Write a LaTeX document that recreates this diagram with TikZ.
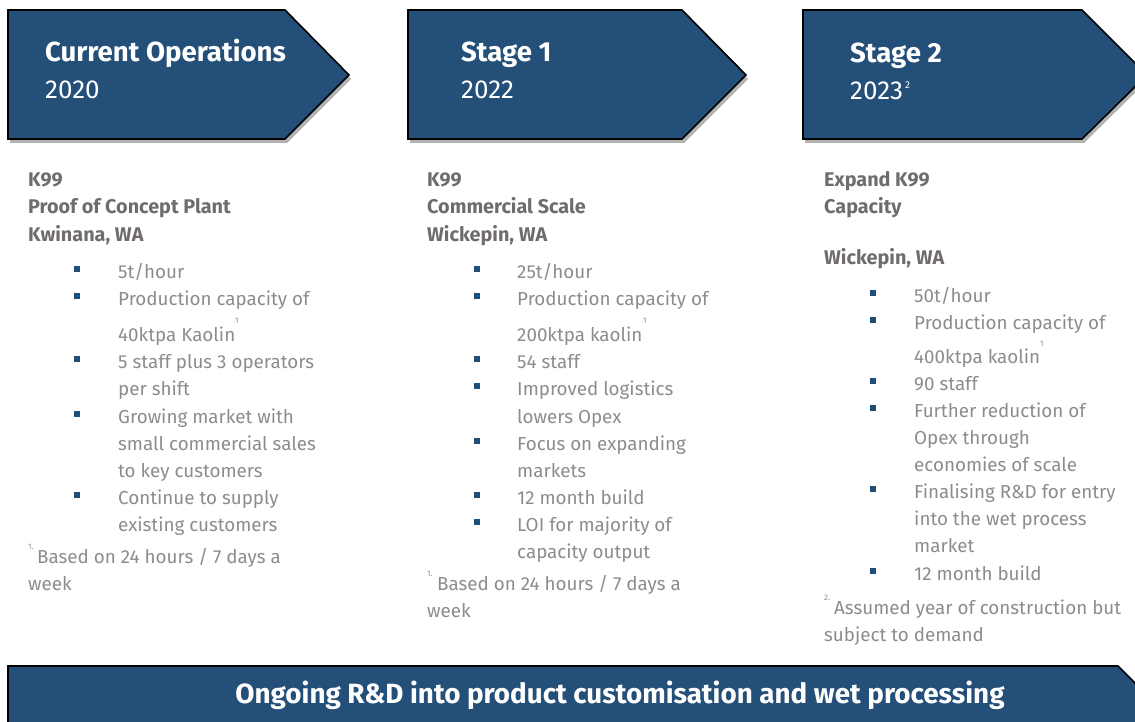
\documentclass[tikz,border=0pt]{standalone}
\usepackage{fontspec}
\setmainfont{Fira Sans}
\usetikzlibrary{shadows}
\definecolor{arrowblue}{RGB}{35,79,121}
\definecolor{headgray}{RGB}{112,108,108}
\definecolor{bodygray}{RGB}{140,140,140}
\definecolor{bulblue}{RGB}{31,78,121}
\newcommand{\hdrfont}{\fontsize{27.6}{30}\selectfont\bfseries}
\newcommand{\yrfont}{\fontsize{26}{30}\selectfont}
\newcommand{\bhfont}{\fontsize{19.8}{22}\selectfont\bfseries}
\newcommand{\btfont}{\fontsize{18.8}{24}\selectfont}
\newcommand{\smfont}{\fontsize{8}{9}\selectfont}
\newcommand{\barfont}{\fontsize{27.8}{30}\selectfont\bfseries}
\begin{document}
\begin{tikzpicture}[x=1pt,y=-1pt,
  stagearrow/.style={fill=arrowblue, draw=black, line width=1.6pt, line join=miter,
    drop shadow={shadow xshift=2pt, shadow yshift=-4pt, opacity=0.3, fill=black}},
  hdr/.style={anchor=base west, inner sep=0pt, text=white, font=\hdrfont},
  yr/.style={anchor=base west, inner sep=0pt, text=white, font=\yrfont},
  bh/.style={anchor=base west, inner sep=0pt, text=headgray, font=\bhfont},
  bt/.style={anchor=base west, inner sep=0pt, text=bodygray, font=\btfont},
  sm/.style={anchor=base west, inner sep=0pt, text=bodygray, font=\smfont},
  bul/.style={fill=bulblue, minimum size=5.5pt, inner sep=0pt},
  bartext/.style={anchor=base, inner sep=0pt, text=white, font=\barfont}]
\useasboundingbox (0,0) rectangle (1135,722);
\clip (0,0) rectangle (1135,722);
% header arrows
\path[stagearrow] (8,10) -- (285,10) -- (349,75) -- (285,139) -- (8,139) -- cycle;
\path[stagearrow] (408,10) -- (682,10) -- (746,75) -- (682,139) -- (408,139) -- cycle;
\path[stagearrow] (803,10) -- (1082,10) -- (1147,75) -- (1082,139) -- (803,139) -- cycle;
\node[hdr] (h1) at (45,62) {Current Operations};
\node[yr] (y1) at (45,99) {2020};
\node[hdr] (h2) at (461,62) {Stage 1};
\node[yr] (y2) at (461,99) {2022};
\node[hdr] (h3) at (850,63) {Stage 2};
\node[yr] (y3) at (850,100) {2023};
\node[sm, text=white, font=\fontsize{10}{11}\selectfont] (y3s) at (905,89) {2};
% column 1
\node[bh] (c1a) at (28,187) {K99};
\node[bh] (c1b) at (28,214) {Proof of Concept Plant};
\node[bh] (c1c) at (28,241) {Kwinana, WA};
\foreach \n/\yy in {1/278,2/305,3/368,4/423,5/504}
  \node[bul] (c1m\n) at (77,\yy-9) {};
\node[bt] (c1l1) at (118,278) {5t/hour};
\node[bt] (c1l2) at (118,305) {Production capacity of};
\node[bt] (c1l3) at (118,341) {40ktpa Kaolin};
\node[sm] (c1s) at (235,323) {1};
\node[bt] (c1l4) at (118,368) {5 staff plus 3 operators};
\node[bt] (c1l5) at (118,395) {per shift};
\node[bt] (c1l6) at (118,423) {Growing market with};
\node[bt] (c1l7) at (118,450) {small commercial sales};
\node[bt] (c1l8) at (118,477) {to key customers};
\node[bt] (c1l9) at (118,504) {Continue to supply};
\node[bt] (c1l10) at (118,531) {existing customers};
\node[sm] (c1f) at (28,549) {1.};
\node[bt] (c1n1) at (37,563) {Based on 24 hours / 7 days a};
\node[bt] (c1n2) at (28,590) {week};
% column 2
\node[bh] (c2a) at (427,187) {K99};
\node[bh] (c2b) at (427,214) {Commercial Scale};
\node[bh] (c2c) at (427,241) {Wickepin, WA};
\foreach \n/\yy in {1/278,2/305,3/368,4/395,5/450,6/504,7/531}
  \node[bul] (c2m\n) at (477,\yy-9) {};
\node[bt] (c2l1) at (517,278) {25t/hour};
\node[bt] (c2l2) at (517,305) {Production capacity of};
\node[bt] (c2l3) at (517,341) {200ktpa kaolin};
\node[sm] (c2s) at (643,323) {1};
\node[bt] (c2l4) at (517,368) {54 staff};
\node[bt] (c2l5) at (517,395) {Improved logistics};
\node[bt] (c2l6) at (517,423) {lowers Opex};
\node[bt] (c2l7) at (517,450) {Focus on expanding};
\node[bt] (c2l8) at (517,477) {markets};
\node[bt] (c2l9) at (517,504) {12 month build};
\node[bt] (c2l10) at (517,531) {LOI for majority of};
\node[bt] (c2l11) at (517,558) {capacity output};
\node[sm] (c2f) at (427,576) {1.};
\node[bt] (c2n1) at (437,590) {Based on 24 hours / 7 days a};
\node[bt] (c2n2) at (427,617) {week};
% column 3
\node[bh] (c3a) at (824,187) {Expand K99};
\node[bh] (c3b) at (824,214) {Capacity};
\node[bh] (c3c) at (824,265) {Wickepin, WA};
\foreach \n/\yy in {1/302,2/329,3/390,4/417,5/498,6/580}
  \node[bul] (c3m\n) at (873,\yy-9) {};
\node[bt] (c3l1) at (914,302) {50t/hour};
\node[bt] (c3l2) at (914,329) {Production capacity of};
\node[bt] (c3l3) at (914,363) {400ktpa kaolin};
\node[sm] (c3s) at (1040,346) {1};
\node[bt] (c3l4) at (914,390) {90 staff};
\node[bt] (c3l5) at (914,417) {Further reduction of};
\node[bt] (c3l6) at (914,444) {Opex through};
\node[bt] (c3l7) at (914,471) {economies of scale};
\node[bt] (c3l8) at (914,498) {Finalising R\&D for entry};
\node[bt] (c3l9) at (914,525) {into the wet process};
\node[bt] (c3l10) at (914,552) {market};
\node[bt] (c3l11) at (914,580) {12 month build};
\node[sm] (c3f) at (824,600) {2.};
\node[bt] (c3n1) at (834,614) {Assumed year of construction but};
\node[bt] (c3n2) at (824,641) {subject to demand};
% bottom bar
\path[stagearrow] (8,666) -- (1118,666) -- (1170,718) -- (1118,770) -- (8,770) -- cycle;
\node[bartext] (bar) at (620,703) {Ongoing R\&D into product customisation and wet processing};
\end{tikzpicture}
\end{document}
